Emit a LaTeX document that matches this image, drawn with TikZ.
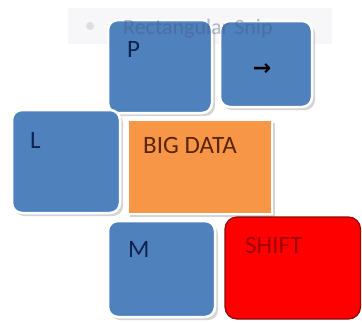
\documentclass[tikz,border=0pt]{standalone}
\usepackage{fontspec}
\setmainfont{Carlito}
\newfontfamily\symfont{DejaVu Sans}
\definecolor{keyblue}{HTML}{4F81BD}
\definecolor{keyorange}{HTML}{F79646}
\definecolor{keyred}{HTML}{FF0000}
\definecolor{redborder}{HTML}{8B0A0A}
\definecolor{bluetext}{HTML}{0F2350}
\definecolor{browntext}{HTML}{5A2508}
\definecolor{redtext}{HTML}{A00000}
\definecolor{snipbg}{HTML}{F7F7F9}
\definecolor{sniptext}{HTML}{44557A}
\definecolor{shadowgray}{HTML}{B8B8B8}
\tikzset{
  keybox/.style={fill=keyblue, draw=white, line width=2.5pt, rounded corners=10pt},
  keyshadow/.style={fill=shadowgray, rounded corners=10pt, opacity=0.6},
  bigbox/.style={fill=keyorange, draw=white, line width=2.5pt},
  shiftbox/.style={fill=keyred, draw=redborder, line width=1.2pt, rounded corners=12pt},
  keylabel/.style={anchor=base west, inner sep=0pt, font=\fontsize{25}{28}\selectfont},
}
\begin{document}
\begin{tikzpicture}[x=1pt,y=-1pt]
\useasboundingbox (0,0) rectangle (362,322);
% faint snip tooltip background
\fill[snipbg] (68,8) rectangle (332,44);
\fill[gray!25] (90,26) circle (4);
% shadows
\fill[keyshadow] (110,23) rectangle (215,116);
\fill[keyshadow] (222,24) rectangle (315,110);
\fill[keyshadow] (14,113) rectangle (123,216);
\fill[shadowgray,opacity=0.6] (130,123) rectangle (275,217);
\fill[keyshadow] (110,224) rectangle (218,320);
% boxes
\draw[keybox] (108,20) rectangle (212,113);
\draw[keybox] (220,21) rectangle (312,107);
\draw[keybox] (12,110) rectangle (120,213);
\draw[bigbox] (128,120) rectangle (272,214);
\draw[keybox] (108,221) rectangle (215,317);
\draw[shiftbox] (225,217) rectangle (360.5,319);
% labels
\node[keylabel, text=bluetext] (p) at (127,57) {P};
\node[keylabel, text=bluetext] (l) at (30,148) {L};
\node[keylabel, text=browntext] (big) at (143,153) {BIG DATA};
\node[keylabel, text=bluetext] (m) at (128,257) {M};
\node[keylabel, text=redtext] (shift) at (245,253) {SHIFT};
\node[inner sep=0pt, text=black, font=\symfont\bfseries\fontsize{22}{24}\selectfont] (arr) at (262,70) {→};
% faint overlay text
\node[anchor=base west, inner sep=0pt, text=sniptext, opacity=0.4, font=\fontsize{22}{24}\selectfont] (snip) at (123,34) {Rectangular Snip};
\end{tikzpicture}
\end{document}
